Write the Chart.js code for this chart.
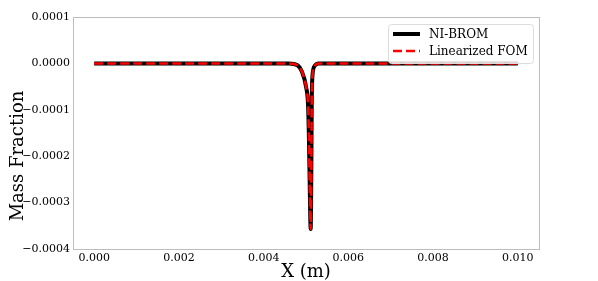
<!DOCTYPE html>
<html>
<head>
<meta charset="utf-8">
<script src="https://cdn.jsdelivr.net/npm/chart.js@4.4.0/dist/chart.umd.min.js"></script>
<style>
  html, body { margin: 0; padding: 0; background: #fff; }
  #wrap { width: 598px; height: 281px; position: relative; }
</style>
</head>
<body>
<div id="wrap"><canvas id="chart"></canvas></div>
<script>
// values
const xPos = [0, 0.002, 0.004, 0.0046, 0.0048, 0.0049, 0.005, 0.00505, 0.00507, 0.00509, 0.00511, 0.005125, 0.005135, 0.00515, 0.0052, 0.0053, 0.006, 0.008, 0.010]
const niBrom = [0, 0, 0, 0, -0.000004, -0.000017, -0.00005, -0.000093, -0.000165, -0.000273, -0.000357, -0.00024, -0.00009, -0.00003, -0.000006, 0, 0, 0, 0]
const linFom = [0, 0, 0, 0, -0.000004, -0.000017, -0.00005, -0.000093, -0.000165, -0.000273, -0.000357, -0.00024, -0.00009, -0.00003, -0.000006, 0, 0, 0, 0]
const xTicks = [0, 0.002, 0.004, 0.006, 0.008, 0.010]
const yTicks = [0.0001, 0, -0.0001, -0.0002, -0.0003, -0.0004]
const yTitle = 'Mass Fraction'

const serif = "'DejaVu Serif', serif"

const toPts = ys => xPos.map((x, i) => ({ x: x, y: ys[i] }))

// matplotlib-like frame, y label and legend
const framePlugin = {
  id: 'frame',
  afterDraw(chart) {
    const { ctx, chartArea: a } = chart
    ctx.save()
    ctx.strokeStyle = '#bdbdbd'
    ctx.lineWidth = 1
    ctx.strokeRect(Math.round(a.left) + 0.5, Math.round(a.top) + 0.5,
      Math.round(a.right - a.left), Math.round(a.bottom - a.top))

    // y label sits a bit below the axis middle in the original
    ctx.save()
    ctx.translate(18, 156)
    ctx.rotate(-Math.PI / 2)
    ctx.font = '18px ' + serif
    ctx.fillStyle = '#000'
    ctx.textAlign = 'center'
    ctx.textBaseline = 'middle'
    ctx.fillText(yTitle, 0, 0)
    ctx.restore()

    // legend box
    const w = 145, h = 39
    const x0 = Math.round(a.right) - w - 6, y0 = Math.round(a.top) + 7
    ctx.fillStyle = 'rgba(255,255,255,0.8)'
    ctx.strokeStyle = '#dcdcdc'
    ctx.beginPath()
    ctx.roundRect(x0 + 0.5, y0 + 0.5, w, h, 3)
    ctx.fill()
    ctx.stroke()
    ctx.font = '12px ' + serif
    ctx.textBaseline = 'middle'
    const items = [chart.data.datasets[1], chart.data.datasets[0]]
    items.forEach((ds, i) => {
      const yy = y0 + 10 + i * 17
      ctx.strokeStyle = ds.borderColor
      ctx.lineWidth = ds.borderWidth
      ctx.setLineDash(ds.borderDash || [])
      ctx.beginPath()
      ctx.moveTo(x0 + 5, yy)
      ctx.lineTo(x0 + 32, yy)
      ctx.stroke()
      ctx.setLineDash([])
      ctx.fillStyle = '#000'
      ctx.fillText(ds.label, x0 + 41, yy + 1)
    })
    ctx.restore()
  }
}

new Chart(document.getElementById('chart'), {
  type: 'line',
  data: {
    datasets: [
      {
        label: 'Linearized FOM',
        data: toPts(linFom),
        borderColor: '#ff0000',
        borderWidth: 2.5,
        borderDash: [9, 4],
        pointRadius: 0,
        cubicInterpolationMode: 'monotone'
      },
      {
        label: 'NI-BROM',
        data: toPts(niBrom),
        borderColor: '#000',
        borderWidth: 4,
        pointRadius: 0,
        cubicInterpolationMode: 'monotone'
      }
    ]
  },
  options: {
    responsive: true,
    maintainAspectRatio: false,
    animation: false,
    layout: { padding: { top: 17, right: 59, left: 0, bottom: 0 } },
    plugins: {
      legend: { display: false },
      tooltip: { enabled: false }
    },
    scales: {
      x: {
        type: 'linear',
        min: -0.0005,
        max: 0.0105,
        grid: { display: false, drawTicks: false, tickLength: 0 },
        border: { display: false },
        afterBuildTicks: axis => { axis.ticks = xTicks.map(v => ({ value: v })) },
        afterFit: axis => { axis.height = 32 },
        ticks: {
          color: '#000',
          padding: 3,
          font: { family: serif, size: 11 },
          callback: v => v.toFixed(3),
          maxRotation: 0
        },
        title: {
          display: true,
          text: 'X (m)',
          color: '#000',
          font: { family: serif, size: 18 },
          padding: { top: 0, bottom: -2 }
        }
      },
      y: {
        min: -0.0004,
        max: 0.0001,
        grid: { display: false, drawTicks: false, tickLength: 0 },
        border: { display: false },
        afterBuildTicks: axis => { axis.ticks = yTicks.map(v => ({ value: v })) },
        afterFit: axis => { axis.width = 73 },
        ticks: {
          color: '#000',
          padding: 3,
          font: { family: serif, size: 11 },
          callback: v => (v < 0 ? '\u2212' : '') + Math.abs(v).toFixed(4)
        }
      }
    }
  },
  plugins: [framePlugin]
})
</script>
</body>
</html>
